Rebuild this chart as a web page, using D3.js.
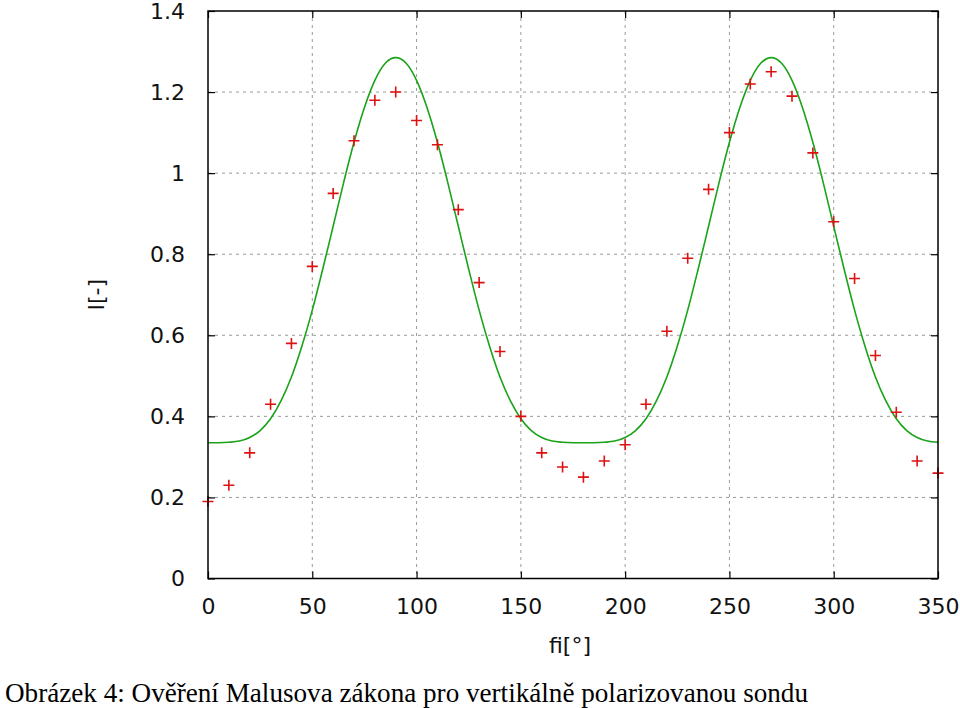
<!DOCTYPE html>
<html>
<head>
<meta charset="utf-8">
<script src="https://cdn.jsdelivr.net/npm/d3@7"></script>
<style>
  html, body { margin: 0; padding: 0; background: #fff; }
  svg { display: block; }
</style>
</head>
<body>
<svg id="chart" width="960" height="708"></svg>
<script>
// measured data: angle [deg] and intensity [-]
const angles = [0,10,20,30,40,50,60,70,80,90,100,110,120,130,140,150,160,170,180,190,200,210,220,230,240,250,260,270,280,290,300,310,320,330,340,350];
const intensity = [0.19,0.23,0.31,0.43,0.58,0.77,0.95,1.08,1.18,1.20,1.13,1.07,0.91,0.73,0.56,0.40,0.31,0.275,0.25,0.29,0.33,0.43,0.61,0.79,0.96,1.10,1.22,1.25,1.19,1.05,0.88,0.74,0.55,0.41,0.29,0.26];

// fitted curve (every 5 degrees)
const fitAngles = [0,5,10,15,20,25,30,35,40,45,50,55,60,65,70,75,80,85,90,95,100,105,110,115,120,125,130,135,140,145,150,155,160,165,170,175,180,185,190,195,200,205,210,215,220,225,230,235,240,245,250,255,260,265,270,275,280,285,290,295,300,305,310,315,320,325,330,335,340,345,350];
const fitValues = [0.335,0.335,0.336,0.339,0.348,0.365,0.394,0.438,0.497,0.573,0.662,0.763,0.869,0.976,1.076,1.162,1.229,1.271,1.285,1.271,1.229,1.162,1.076,0.976,0.869,0.763,0.662,0.573,0.497,0.438,0.394,0.365,0.348,0.339,0.336,0.335,0.335,0.335,0.336,0.339,0.348,0.365,0.394,0.438,0.497,0.573,0.662,0.763,0.869,0.976,1.076,1.162,1.229,1.271,1.285,1.271,1.229,1.162,1.076,0.976,0.869,0.763,0.662,0.573,0.497,0.438,0.394,0.365,0.348,0.339,0.336];

const xTicks = [0,50,100,150,200,250,300,350];
const yTicks = [0,0.2,0.4,0.6,0.8,1.0,1.2,1.4];
const xLabel = "fi[°]";
const yLabel = "I[-]";
const caption = "Obrázek 4: Ověření Malusova zákona pro vertikálně polarizovanou sondu";

const L = 208, R = 938, T = 11, B = 578.5;
const svg = d3.select("#chart");
const x = d3.scaleLinear().domain([0, 350]).range([L, R]);
const y = d3.scaleLinear().domain([0, 1.4]).range([B, T]);
const fmt = v => String(+v.toFixed(1));
const FONT = "'DejaVu Sans', sans-serif";

// grid
const grid = svg.append("g").attr("stroke", "#9a9a9a").attr("stroke-width", 1).attr("stroke-dasharray", "3,4");
grid.selectAll("line.gx").data(xTicks.slice(1, -1)).join("line")
  .attr("x1", d => x(d)).attr("x2", d => x(d)).attr("y1", T).attr("y2", B);
grid.selectAll("line.gy").data(yTicks.slice(1, -1)).join("line")
  .attr("y1", d => y(d)).attr("y2", d => y(d)).attr("x1", L).attr("x2", R);

// fitted curve
svg.append("path")
  .datum(fitAngles.map((a, i) => [a, fitValues[i]]))
  .attr("fill", "none").attr("stroke", "#1aa31a").attr("stroke-width", 1.6)
  .attr("d", d3.line().x(d => x(d[0])).y(d => y(d[1])).curve(d3.curveMonotoneX));

// measured points as "+"
svg.append("g").selectAll("path").data(angles.map((a, i) => [a, intensity[i]])).join("path")
  .attr("transform", d => `translate(${x(d[0])},${y(d[1])})`)
  .attr("d", "M-5.5,0H5.5M0,-5.5V5.5")
  .attr("stroke", "#dd1111").attr("stroke-width", 1.6).attr("fill", "none");

// axes
function styleAxis(g, showText) {
  g.select(".domain").remove();
  g.selectAll(".tick line").attr("stroke", "#000").attr("stroke-width", 1.2);
  if (!showText) g.selectAll(".tick text").remove();
  else g.selectAll(".tick text").attr("font-family", FONT).attr("font-size", 22).attr("fill", "#111");
}
svg.append("g").attr("transform", `translate(${L},0)`)
  .call(d3.axisLeft(y).tickValues(yTicks).tickFormat(fmt).tickSizeInner(-7).tickSizeOuter(0).tickPadding(23))
  .call(g => styleAxis(g, true));
svg.append("g").attr("transform", `translate(${R},0)`)
  .call(d3.axisRight(y).tickValues(yTicks).tickSizeInner(-7).tickSizeOuter(0))
  .call(g => styleAxis(g, false));
svg.append("g").attr("transform", `translate(0,${B})`)
  .call(d3.axisBottom(x).tickValues(xTicks).tickFormat(d3.format("d")).tickSizeInner(-7).tickSizeOuter(0).tickPadding(20))
  .call(g => styleAxis(g, true));
svg.append("g").attr("transform", `translate(0,${T})`)
  .call(d3.axisTop(x).tickValues(xTicks).tickSizeInner(-7).tickSizeOuter(0))
  .call(g => styleAxis(g, false));

// frame
svg.append("rect").attr("x", L).attr("y", T).attr("width", R - L).attr("height", B - T)
  .attr("fill", "none").attr("stroke", "#000").attr("stroke-width", 1.5);

// axis labels
svg.append("text").attr("x", (L + R) / 2 - 3).attr("y", 653).attr("text-anchor", "middle")
  .attr("font-family", FONT).attr("font-size", 22).attr("fill", "#111").text(xLabel);
svg.append("text").attr("transform", `translate(104,${(T + B) / 2}) rotate(-90)`).attr("text-anchor", "middle")
  .attr("font-family", FONT).attr("font-size", 22).attr("fill", "#111").text(yLabel);

// caption
svg.append("text").attr("x", 5).attr("y", 702)
  .attr("font-family", "'Liberation Serif', 'DejaVu Serif', serif").attr("font-size", 28).attr("fill", "#000")
  .attr("textLength", 803).attr("lengthAdjust", "spacingAndGlyphs").text(caption);
</script>
</body>
</html>
